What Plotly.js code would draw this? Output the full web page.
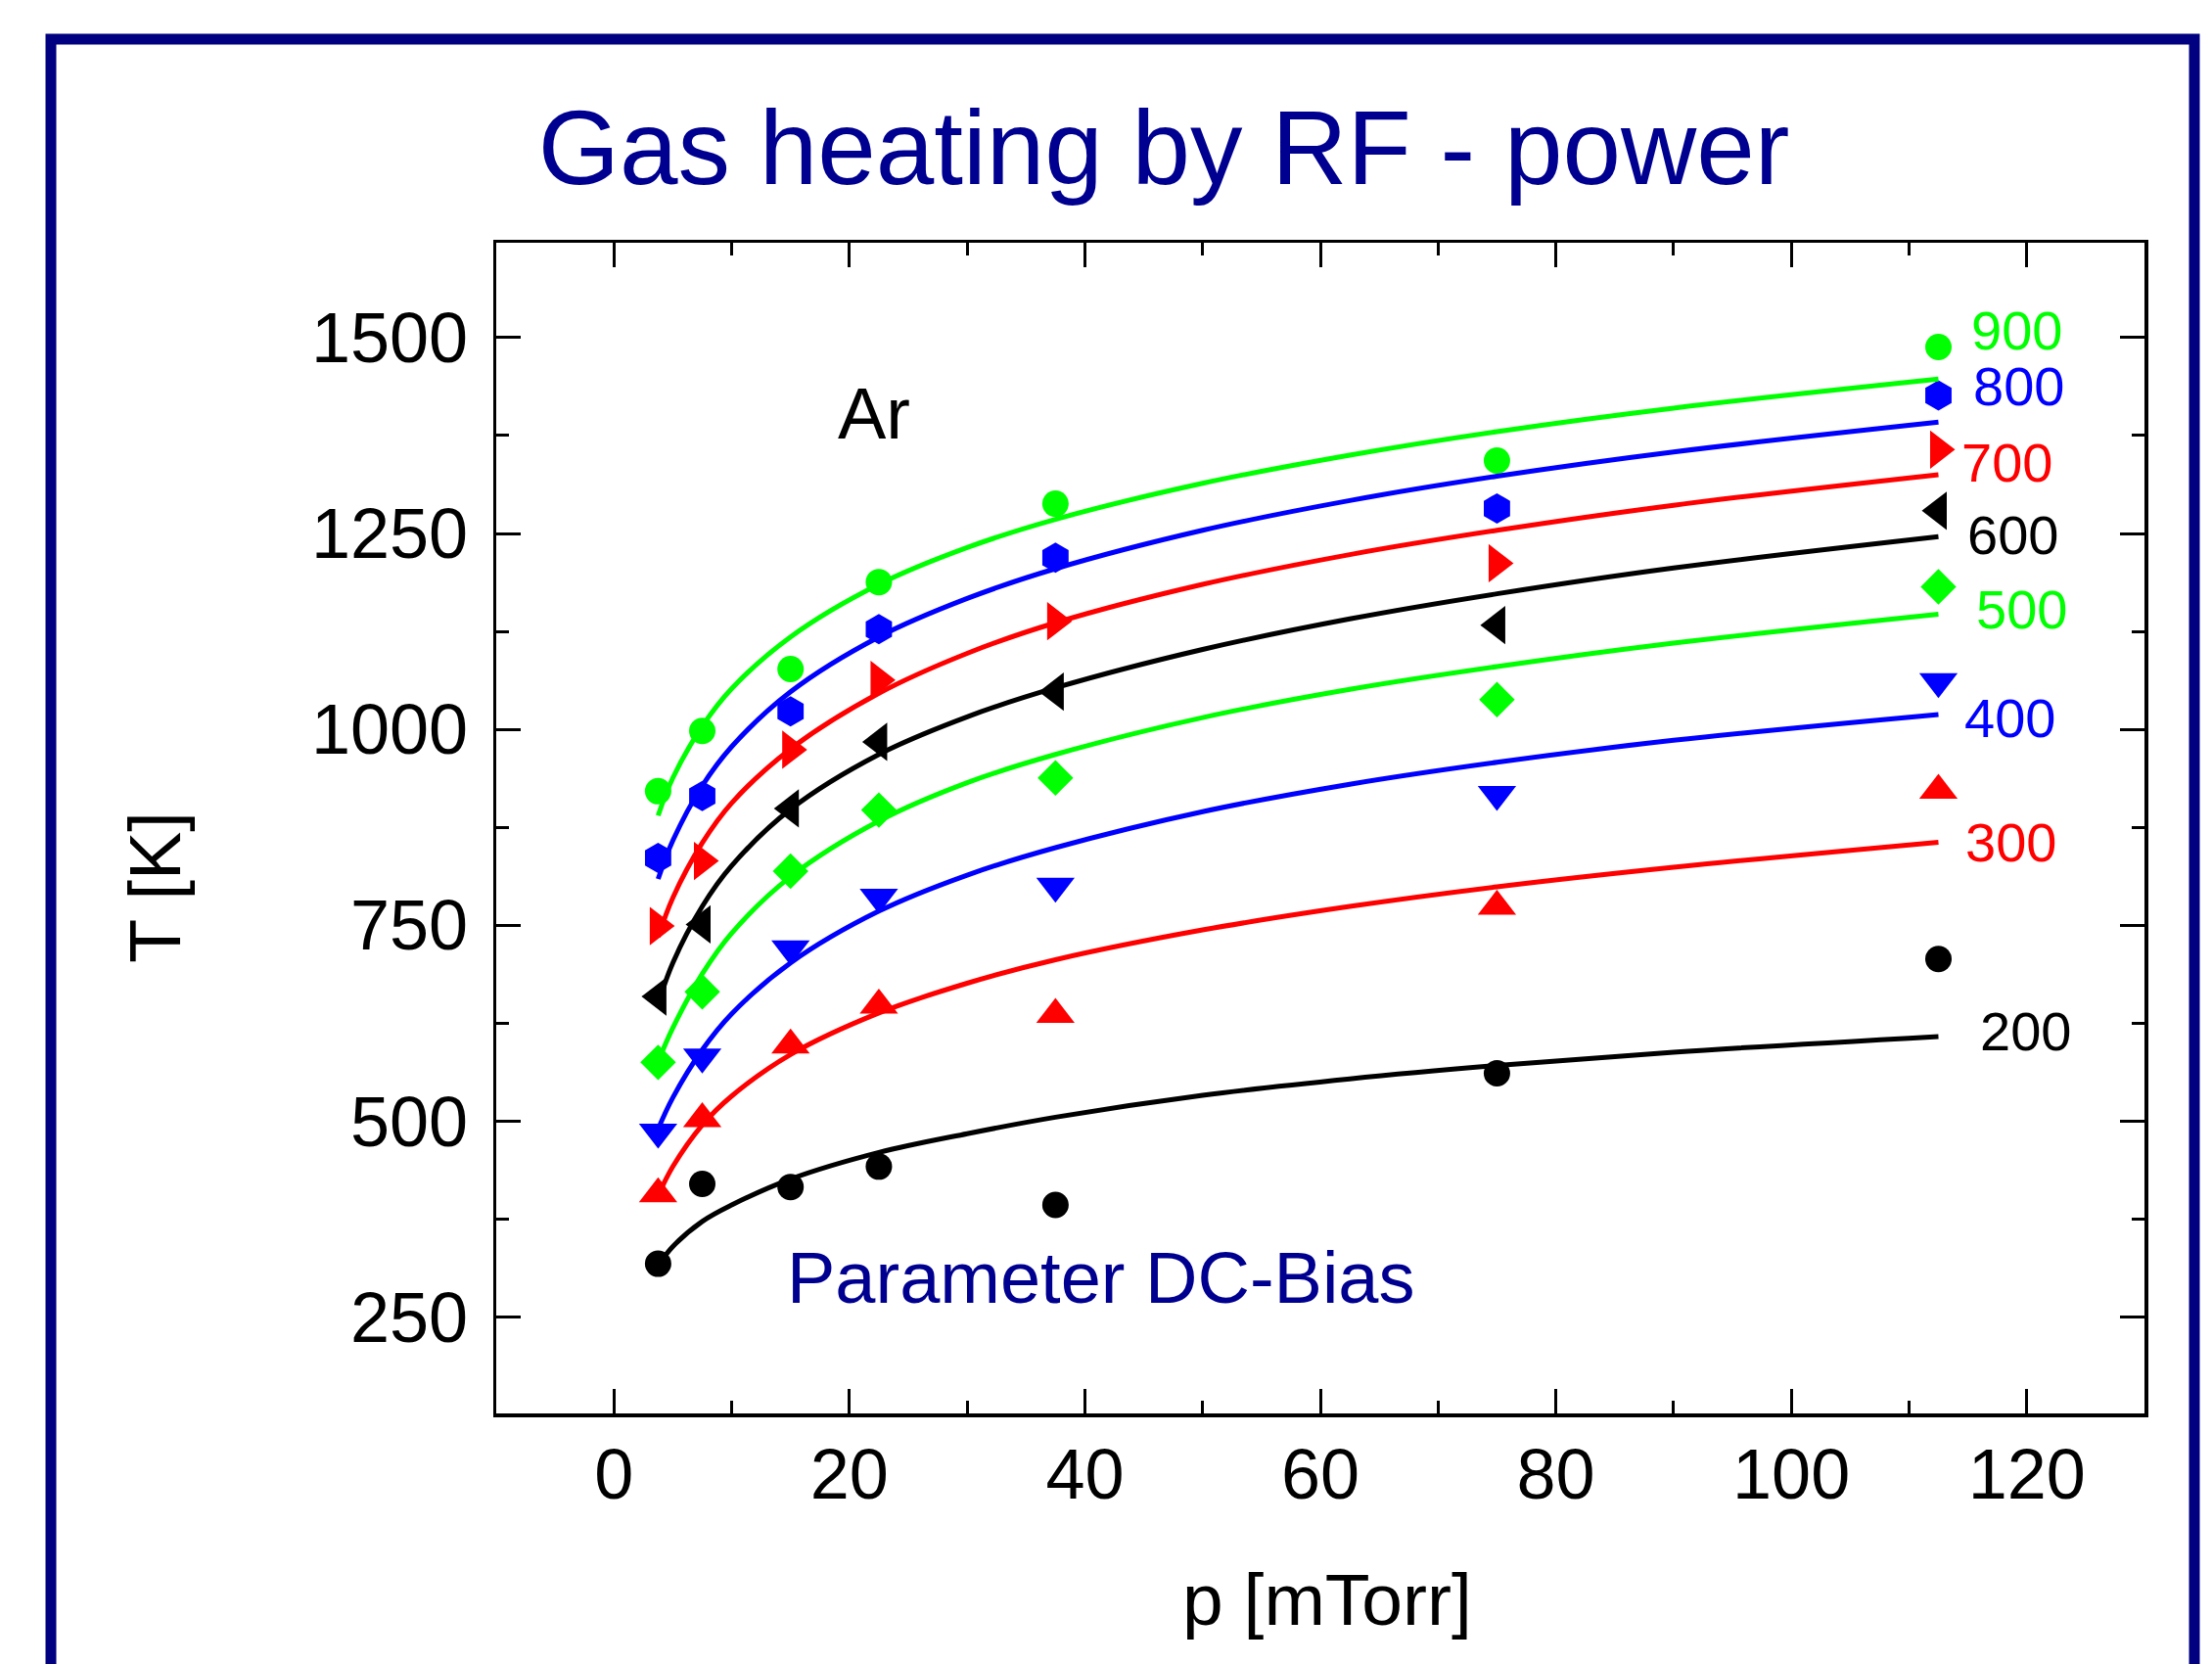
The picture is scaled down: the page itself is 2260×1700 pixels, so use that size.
<!DOCTYPE html>
<html>
<head>
<meta charset="utf-8">
<script src="https://cdn.plot.ly/plotly-3.0.1.min.js"></script>
<style>
  html, body { margin: 0; padding: 0; background: #ffffff; }
  #chart { width: 2260px; height: 1700px; }
</style>
</head>
<body>
<div id="chart"></div>
<script>
// ---------------- data ----------------
const pressure = [3.75, 7.5, 15, 22.5, 37.5, 75, 112.5];   // p [mTorr]
const T200 = [318, 420, 416, 442, 393, 561, 707];
const T300 = [407, 503, 597, 648, 636, 774, 922];
const T400 = [486, 582, 720, 786, 800, 917, 1061];
const T500 = [575, 665, 819, 897, 938, 1038, 1182];
const T600 = [659, 751, 899, 984, 1048, 1133, 1279];
const T700 = [749, 832, 974, 1063, 1138, 1212, 1357];
const T800 = [836, 915, 1023, 1128, 1219, 1282, 1426];
const T900 = [921, 998, 1077, 1188, 1288, 1343, 1488];

// fitted curves
const fitP   = [3.75, 5, 7.5, 10, 15, 22.5, 30, 37.5, 50, 62.5, 75, 90, 112.5];
const fit200 = [316, 340, 372, 393, 426, 460, 484, 505, 533, 554, 571, 588, 608];
const fit300 = [405, 442, 495, 532, 585, 638, 676, 706, 744, 774, 799, 824, 856];
const fit400 = [490, 530, 591, 637, 702, 768, 814, 849, 895, 930, 958, 986, 1019];
const fit500 = [576, 619, 688, 740, 812, 883, 932, 968, 1015, 1051, 1080, 1110, 1147];
const fit600 = [650, 702, 774, 826, 898, 968, 1016, 1053, 1102, 1141, 1173, 1206, 1246];
const fit700 = [735, 785, 855, 906, 975, 1046, 1097, 1136, 1185, 1223, 1254, 1286, 1325];
const fit800 = [809, 858, 928, 978, 1048, 1118, 1167, 1205, 1254, 1292, 1323, 1354, 1392];
const fit900 = [890, 938, 1004, 1052, 1118, 1185, 1232, 1268, 1314, 1350, 1380, 1410, 1447];

const biasLabels = ['200', '300', '400', '500', '600', '700', '800', '900'];
const xTickVals = [0, 20, 40, 60, 80, 100, 120];
const yTickVals = [250, 500, 750, 1000, 1250, 1500];

// ---------------- styling ----------------
const GREEN = '#00ff00', BLUE = '#0000ff', RED = '#ff0000', BLACK = '#000000';
const NAVY = '#000090';
const FONT = '"Liberation Sans", Arial, Helvetica, sans-serif';

const series = [
  {name: biasLabels[0], T: T200, fit: fit200, color: BLACK, symbol: 'circle',         size: 27},
  {name: biasLabels[1], T: T300, fit: fit300, color: RED,   symbol: 'triangle-up',    size: 34},
  {name: biasLabels[2], T: T400, fit: fit400, color: BLUE,  symbol: 'triangle-down',  size: 34},
  {name: biasLabels[3], T: T500, fit: fit500, color: GREEN, symbol: 'diamond',        size: 28},
  {name: biasLabels[4], T: T600, fit: fit600, color: BLACK, symbol: 'triangle-left',  size: 34},
  {name: biasLabels[5], T: T700, fit: fit700, color: RED,   symbol: 'triangle-right', size: 34},
  {name: biasLabels[6], T: T800, fit: fit800, color: BLUE,  symbol: 'hexagon',        size: 31},
  {name: biasLabels[7], T: T900, fit: fit900, color: GREEN, symbol: 'circle',         size: 27}
];

const traces = [];
series.forEach(s => {
  traces.push({
    x: pressure, y: s.T, type: 'scatter', mode: 'markers', name: s.name,
    marker: {symbol: s.symbol, size: s.size, color: s.color, line: {width: 0}},
    showlegend: false, hoverinfo: 'x+y', cliponaxis: false
  });
});
series.forEach(s => {
  traces.push({
    x: fitP, y: s.fit, type: 'scatter', mode: 'lines', name: s.name + ' fit',
    line: {color: s.color, width: 5, shape: 'spline', smoothing: 1},
    showlegend: false, hoverinfo: 'skip'
  });
});

// plot-area pixel box -> paper coordinates for annotations / frame
const PL = 507, PR = 2191, PT = 248, PB = 1444;
const px = v => (v - PL) / (PR - PL);
const py = v => (PB - v) / (PB - PT);

// right-hand bias labels: [left x px, middle y px]
const labelPos = [[2021, 1053], [2006, 861], [2005, 733], [2017, 622], [2008, 546], [2002, 472], [2014, 394], [2012, 338]];

const annotations = [];
series.forEach((s, i) => {
  annotations.push({
    text: s.name, xref: 'paper', yref: 'paper',
    x: px(labelPos[i][0]), y: py(labelPos[i][1]),
    xanchor: 'left', yanchor: 'middle', showarrow: false,
    font: {family: FONT, size: 56, color: s.color}
  });
});
annotations.push({
  text: 'Ar', xref: 'paper', yref: 'paper', x: px(893), y: py(422),
  xanchor: 'center', yanchor: 'middle', showarrow: false,
  font: {family: FONT, size: 74, color: BLACK}
});
annotations.push({
  text: 'Parameter DC-Bias', xref: 'paper', yref: 'paper', x: px(1125), y: py(1305),
  xanchor: 'center', yanchor: 'middle', showarrow: false,
  font: {family: FONT, size: 74, color: NAVY}
});
annotations.push({
  text: 'p [mTorr]', xref: 'paper', yref: 'paper', x: px(1356), y: py(1634),
  xanchor: 'center', yanchor: 'middle', showarrow: false,
  font: {family: FONT, size: 75, color: BLACK}
});
annotations.push({
  text: 'T [K]', xref: 'paper', yref: 'paper', x: px(158), y: py(907),
  xanchor: 'center', yanchor: 'middle', showarrow: false, textangle: -90,
  font: {family: FONT, size: 74, color: BLACK}
});

const axisCommon = {
  showgrid: false, zeroline: false, showline: true, linecolor: BLACK, linewidth: 3.5,
  mirror: 'ticks', ticks: 'inside', tickcolor: BLACK, tickwidth: 3, ticklen: 25,
  tickfont: {family: FONT, size: 72, color: BLACK}
};

const layout = {
  width: 2260, height: 1700,
  paper_bgcolor: '#ffffff', plot_bgcolor: '#ffffff',
  margin: {l: PL, r: 2260 - PR, t: PT, b: 1700 - PB, pad: 0},
  showlegend: false,
  title: {
    text: 'Gas heating by RF - power',
    font: {family: FONT, size: 107, color: NAVY},
    xref: 'container', yref: 'container',
    x: 1189 / 2260, xanchor: 'center', y: 1 - 151 / 1700, yanchor: 'middle'
  },
  xaxis: Object.assign({}, axisCommon, {
    range: [-10, 130], tickmode: 'array', tickvals: xTickVals,
    minor: {dtick: 10, tick0: 0, ticks: 'inside', ticklen: 13, tickwidth: 3, tickcolor: BLACK},
    ticklabelstandoff: -3
  }),
  yaxis: Object.assign({}, axisCommon, {
    range: [127, 1621], tickmode: 'array', tickvals: yTickVals,
    minor: {dtick: 125, tick0: 0, ticks: 'inside', ticklen: 13, tickwidth: 3, tickcolor: BLACK},
    ticklabelstandoff: 11
  }),
  annotations: annotations,
  shapes: [{
    type: 'rect', xref: 'paper', yref: 'paper', layer: 'above',
    x0: px(52), x1: px(2242), y0: py(1730), y1: py(40),
    line: {color: '#000080', width: 11}, fillcolor: 'rgba(0,0,0,0)'
  }]
};

Plotly.newPlot('chart', traces, layout, {staticPlot: true, displayModeBar: false});
</script>
</body>
</html>
